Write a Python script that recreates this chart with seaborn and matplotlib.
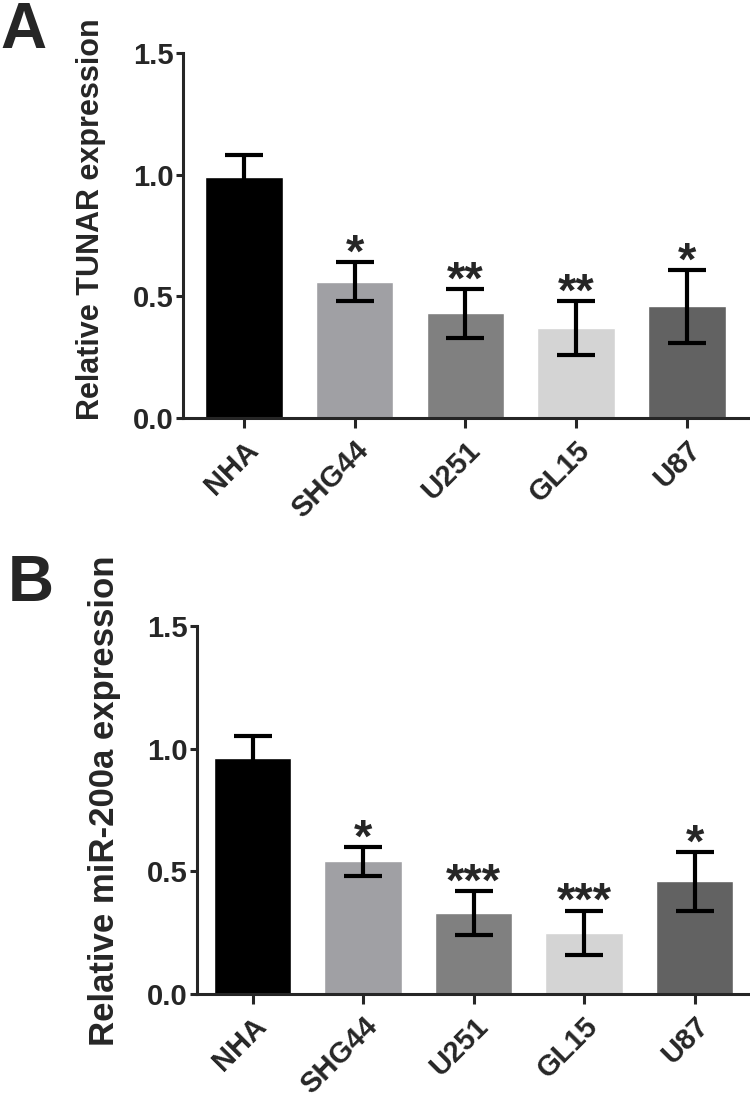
import pandas as pd
import seaborn as sns
import matplotlib.pyplot as plt

# data
cells = ["NHA", "SHG44", "U251", "GL15", "U87"]
bar_colors = ["#000000", "#a0a0a4", "#808080", "#d4d4d4", "#626262"]

tunar_mean = [0.99, 0.56, 0.43, 0.37, 0.46]
tunar_err = [0.09, 0.08, 0.10, 0.11, 0.15]
tunar_stars = ["", "*", "**", "**", "*"]

mir_mean = [0.96, 0.54, 0.33, 0.25, 0.46]
mir_err = [0.09, 0.06, 0.09, 0.09, 0.12]
mir_stars = ["", "*", "***", "***", "*"]

yticks = [0.0, 0.5, 1.0, 1.5]

sns.set_style("ticks")
plt.rcParams["font.family"] = ["Liberation Sans", "DejaVu Sans"]
plt.rcParams["font.weight"] = "bold"

fig = plt.figure(figsize=(7.5, 11.02), dpi=100)
axA = fig.add_axes([0.244, 0.6207, 0.753, 0.3312])
axB = fig.add_axes([0.263, 0.098, 0.737, 0.334])


def draw_panel(ax, means, errs, stars, ylabel, label_size, label_xy, xlim):
    df = pd.DataFrame({"cell": cells, "value": means})
    sns.barplot(data=df, x="cell", y="value", hue="cell", palette=bar_colors,
                width=0.7, errorbar=None, legend=False, ax=ax, saturation=1)
    ax.errorbar(range(len(cells)), means, yerr=errs, fmt="none", ecolor="black",
                elinewidth=3, capsize=14, capthick=3, zorder=5)
    for i, s in enumerate(stars):
        if s:
            ax.text(i, means[i] + errs[i] + 0.03, s, ha="center", va="center",
                    fontsize=34, fontweight="bold")
    ax.set_ylim(0, 1.5)
    ax.set_xlim(*xlim)
    ax.set_yticks(yticks)
    ax.set_yticklabels([f"{t:.1f}" for t in yticks], fontsize=21, fontweight="bold")
    ax.set_xticks(range(len(cells)))
    ax.set_xticklabels(cells, rotation=45, ha="right", rotation_mode="anchor",
                       fontsize=21, fontweight="bold")
    ax.set_xlabel("")
    ax.set_ylabel(ylabel, fontsize=label_size, fontweight="bold")
    ax.yaxis.set_label_coords(*label_xy)
    sns.despine(ax=ax)
    for sp in ["left", "bottom"]:
        ax.spines[sp].set_linewidth(2.2)
    ax.tick_params(axis="y", width=2.2, length=5, pad=2)
    ax.tick_params(axis="x", width=2.2, length=7, pad=6)


draw_panel(axA, tunar_mean, tunar_err, tunar_stars, "Relative TUNAR expression",
           22, (-0.136, 0.545), (-0.55, 4.55))
draw_panel(axB, mir_mean, mir_err, mir_stars, "Relative miR-200a expression",
           25, (-0.138, 0.524), (-0.5, 4.5))

fig.text(0.0, 0.999, "A", fontsize=46, fontweight="bold", va="top", ha="left")
fig.text(0.01, 0.497, "B", fontsize=46, fontweight="bold", va="top", ha="left")

fig.savefig("out.png", dpi=100)
